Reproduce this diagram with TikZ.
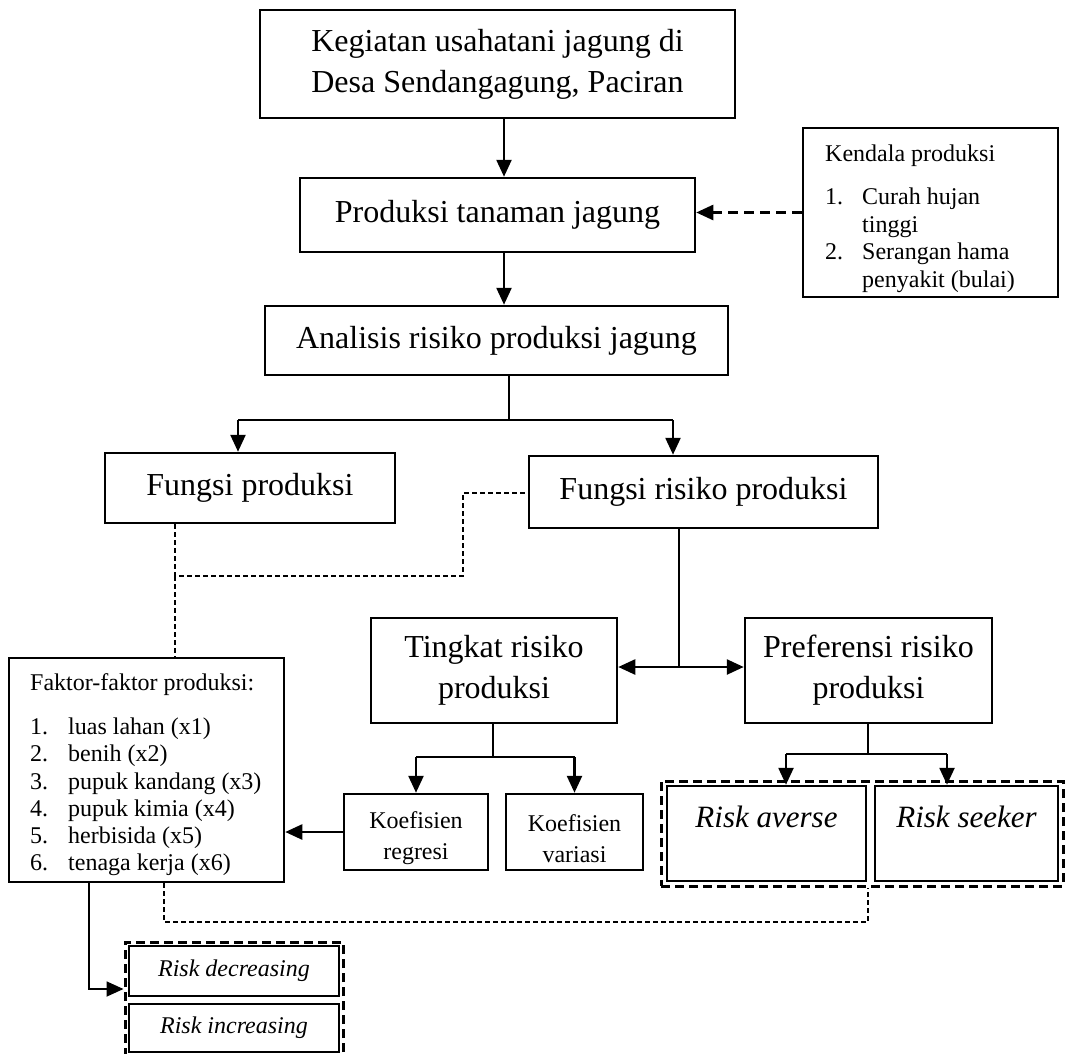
\documentclass[tikz,border=0pt]{standalone}
\usepackage{fontspec}
\setmainfont{Liberation Serif}
\usetikzlibrary{arrows.meta}
\begin{document}
\begin{tikzpicture}[x=1pt,y=-1pt,
  box/.style={draw, line width=2.5pt, inner sep=0pt, align=center, font=\fontsize{32}{41}\selectfont},
  sbox/.style={draw, line width=2.5pt, inner sep=0pt, align=center, font=\fontsize{24}{31}\selectfont},
  frame/.style={draw, line width=2.5pt, inner sep=0pt},
  txt/.style={inner sep=0pt, align=left, anchor=north west},
  thinl/.style={line width=1.3pt},
  tip/.style={-{Triangle[length=17pt,width=15pt]}},
  arr/.style={line width=2.5pt, tip},
  dotl/.style={line width=1.2pt, dash pattern=on 5pt off 3pt},
  grp/.style={draw, line width=3pt, dash pattern=on 9pt off 5pt, inner sep=0pt},
]
\useasboundingbox[fill=white] (0,0) rectangle (1065,1054);

% nodes
\node[box, minimum width=475pt, minimum height=108pt] (keg) at (497.5,64) {Kegiatan usahatani jagung di\\Desa Sendangagung, Paciran};
\node[box, minimum width=395pt, minimum height=74pt] (prod) at (497.5,215) {Produksi tanaman jagung};
\node[frame, minimum width=255pt, minimum height=169pt] (kend) at (930.5,212.5) {};
\node[txt, font=\fontsize{24}{27.7}\selectfont] (kendt) at (825,145) {Kendala produksi\\[15pt]\makebox[37pt][l]{1.}Curah hujan\\\hspace*{37pt}tinggi\\\makebox[37pt][l]{2.}Serangan hama\\\hspace*{37pt}penyakit (bulai)};
\node[box, minimum width=463pt, minimum height=69pt] (anal) at (496.5,340.5) {Analisis risiko produksi jagung};
\node[box, minimum width=290pt, minimum height=70pt] (fprod) at (250,488) {Fungsi produksi};
\node[box, minimum width=349pt, minimum height=72pt] (frisk) at (703.5,492) {Fungsi risiko produksi};
\node[box, minimum width=246pt, minimum height=105pt] (ting) at (494,670.5) {Tingkat risiko\\produksi};
\node[box, minimum width=247pt, minimum height=105pt] (pref) at (868.5,670.5) {Preferensi risiko\\produksi};
\node[sbox, minimum width=144pt, minimum height=76pt] (kreg) at (416,832) {\rule{0pt}{30pt}Koefisien\\regresi};
\node[sbox, minimum width=137pt, minimum height=76pt] (kvar) at (574.5,832) {\rule{0pt}{30pt}Koefisien\\variasi};
\node[frame, minimum width=275pt, minimum height=224pt] (fakt) at (146.5,770) {};
\node[txt, font=\fontsize{24}{27.3}\selectfont] (faktt) at (30,673) {Faktor-faktor produksi:\\[17pt]\makebox[38pt][l]{1.}luas lahan (x1)\\\makebox[38pt][l]{2.}benih (x2)\\\makebox[38pt][l]{3.}pupuk kandang (x3)\\\makebox[38pt][l]{4.}pupuk kimia (x4)\\\makebox[38pt][l]{5.}herbisida (x5)\\\makebox[38pt][l]{6.}tenaga kerja (x6)};
\node[grp, minimum width=402pt, minimum height=105pt] (grpA) at (862,833.5) {};
\node[box, font=\fontsize{31}{38}\selectfont\itshape, text depth=33pt, minimum width=199pt, minimum height=95pt] (ravr) at (766.5,833.5) {Risk averse};
\node[box, font=\fontsize{31}{38}\selectfont\itshape, text depth=33pt, minimum width=183pt, minimum height=95pt] (rsek) at (966.5,833.5) {Risk seeker};
\node[grp, minimum width=218pt, minimum height=116pt] (grpB) at (234,1000) {};
\node[sbox, font=\fontsize{24}{30}\selectfont\itshape, minimum width=210pt, minimum height=50pt] (rdec) at (234,971) {Risk decreasing};
\node[sbox, font=\fontsize{24}{30}\selectfont\itshape, minimum width=210pt, minimum height=48pt] (rinc) at (234,1028) {Risk increasing};

% connectors
\coordinate (c1) at (504,0);
\draw[arr] (keg.south -| c1) -- (prod.north -| c1);
\draw[arr] (prod.south -| c1) -- (anal.north -| c1);
\draw[arr, dash pattern=on 10pt off 6pt] (kend.west) -- (prod.east |- kend.west);

\coordinate (c2) at (509,420);
\coordinate (s2l) at (238,420);
\coordinate (s2r) at (673,420);
\draw[thinl] (anal.south -| c2) -- (c2);
\draw[thinl] (s2l) -- (s2r);
\draw[arr] (s2l) -- (s2l |- fprod.north);
\draw[arr] (s2r) -- (s2r |- frisk.north);

\coordinate (d1) at (175,576);
\coordinate (d2) at (463,576);
\coordinate (d3) at (463,493);
\draw[dotl] (fprod.south -| d1) -- (d1) -- (d2) -- (d3) -- (frisk.west |- d3);
\draw[dotl] (d1) -- (fakt.north -| d1);

\coordinate (c3) at (679,667);
\draw[thinl] (frisk.south -| c3) -- (c3);
\draw[line width=2.5pt, {Triangle[length=17pt,width=15pt]}-{Triangle[length=17pt,width=15pt]}] (ting.east |- c3) -- (pref.west |- c3);

\coordinate (c4) at (493,757);
\draw[thinl] (ting.south -| c4) -- (c4);
\draw[thinl] (kreg.north |- c4) -- (kvar.north |- c4);
\draw[arr] (kreg.north |- c4) -- (kreg.north);
\draw[arr] (kvar.north |- c4) -- (kvar.north);
\draw[arr] (kreg.west) -- (fakt.east |- kreg.west);

\coordinate (c5) at (868,754);
\coordinate (s5l) at (786,754);
\coordinate (s5r) at (947,754);
\draw[thinl] (pref.south -| c5) -- (c5);
\draw[thinl] (s5l) -- (s5r);
\draw[arr] (s5l) -- (s5l |- ravr.north);
\draw[arr] (s5r) -- (s5r |- rsek.north);

\coordinate (c6) at (89,989);
\draw[line width=1.8pt, tip] (fakt.south -| c6) -- (c6) -- (grpB.west |- c6);

\coordinate (d4) at (164,922);
\coordinate (d5) at (868,922);
\draw[dotl] (fakt.south -| d4) -- (d4) -- (d5) -- (grpA.south -| d5);
\end{tikzpicture}
\end{document}
